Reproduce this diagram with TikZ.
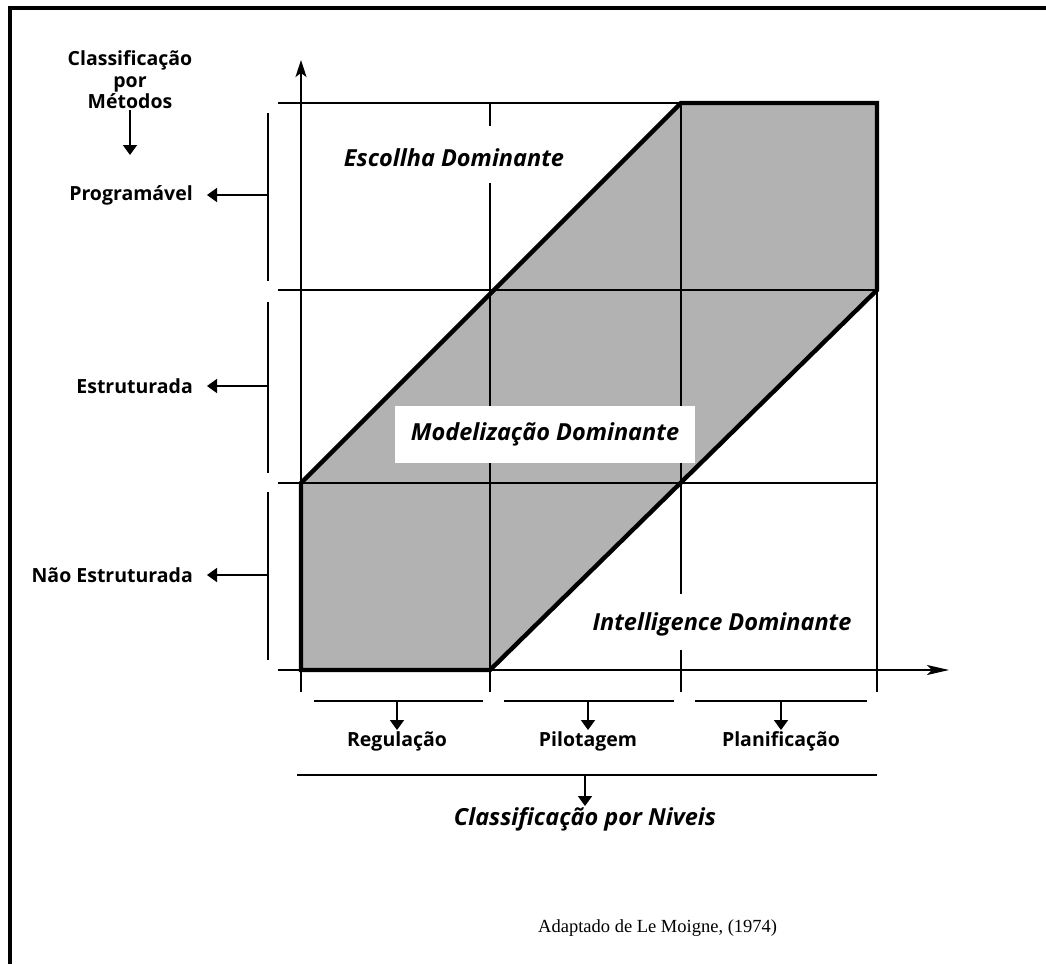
\documentclass[tikz,border=0pt]{standalone}
\usepackage{fontspec}
\setmainfont{Open Sans}
\newfontfamily\citefont{Liberation Serif}
\usetikzlibrary{arrows.meta}

\begin{document}
\begin{tikzpicture}[x=1pt,y=-1pt,
  frameline/.style={line width=3.5pt},
  gridline/.style={line width=1.7pt},
  outline/.style={line width=4.4pt,line join=miter},
  axisline/.style={line width=1.7pt},
  shade/.style={fill=black!30},
  ptr/.style={line width=1.7pt,-{Triangle[length=10pt,width=14pt]}},
  yarrow/.style={axisline,-{Stealth[length=17pt,width=11pt,inset=4pt]}},
  xarrow/.style={axisline,-{Stealth[length=22pt,width=10pt,inset=5pt]}},
  lab/.style={font=\fontsize{19.5}{20.5}\selectfont\bfseries,inner sep=1pt},
  zone/.style={font=\fontsize{23.5}{26}\selectfont\bfseries\itshape,inner sep=1pt},
]
\useasboundingbox (0,0) rectangle (1046,964);

% page frame (top and left edges only)
\draw[frameline] (10,964) -- (10,8) -- (1046,8);

% grid positions: columns a..d, rows t..w
\def\xa{301}\def\xb{490}\def\xc{681}\def\xd{877}
\def\yt{103}\def\yu{290}\def\yv{483}\def\yw{670}

% shaded band of the dominant modelling zone
\fill[shade] (\xa,\yw) -- (\xa,\yv) -- (\xc,\yt) -- (\xd,\yt) -- (\xd,\yu) -- (\xb,\yw) -- cycle;

% horizontal grid lines
\foreach \yy in {\yt,\yu,\yv}
  \draw[gridline] (278,\yy) -- (\xd,\yy);

% vertical grid lines with gaps for the zone labels
\draw[gridline] (\xb,\yt) -- (\xb,126);
\draw[gridline] (\xb,183) -- (\xb,692);
\draw[gridline] (\xc,\yt) -- (\xc,594);
\draw[gridline] (\xc,650) -- (\xc,692);
\draw[gridline] (\xd,\yt) -- (\xd,692);

% axes
\coordinate (xstart) at (278,\yw);
\coordinate (xend) at (949,\yw);
\coordinate (ystart) at (\xa,692);
\coordinate (yend) at (\xa,60);
\draw[xarrow] (xstart) -- (xend);
\draw[yarrow] (ystart) -- (yend);

% outline of the shaded band
\draw[outline] (\xa,\yw) -- (\xa,\yv) -- (\xc,\yt) -- (\xd,\yt) -- (\xd,\yu) -- (\xb,\yw) -- cycle;

% zone labels
\node[zone] (escolha) at (454,158) {Escollha Dominante};
\node[zone,fill=white,minimum width=300pt,minimum height=57pt] (modelo) at (545,434) {Modelização Dominante};
\node[zone] (intel) at (722,624) {Intelligence Dominante};

% vertical classification (methods)
\node[lab,align=center,font=\fontsize{19.5}{21.5}\selectfont\bfseries] (metodos) at (130,80) {Classificação\\por\\Métodos};
\coordinate (mtip) at (130,155);
\draw[ptr] (metodos.south) -- (mtip);

\coordinate (b1top) at (268,113);  \coordinate (b1bot) at (268,281);
\coordinate (b2top) at (268,302);  \coordinate (b2bot) at (268,473);
\coordinate (b3top) at (268,492);  \coordinate (b3bot) at (268,660);
\draw[gridline] (b1top) -- (b1bot);
\draw[gridline] (b2top) -- (b2bot);
\draw[gridline] (b3top) -- (b3bot);

\node[lab,anchor=east,inner xsep=14pt] (prog) at (207,195) {Programável};
\node[lab,anchor=east,inner xsep=14pt] (estr) at (207,386) {Estruturada};
\node[lab,anchor=east,inner xsep=14pt] (naoestr) at (207,575) {Não Estruturada};
\coordinate (b1mid) at (268,195);
\coordinate (b2mid) at (268,386);
\coordinate (b3mid) at (268,575);
\draw[ptr] (b1mid) -- (prog.east);
\draw[ptr] (b2mid) -- (estr.east);
\draw[ptr] (b3mid) -- (naoestr.east);

% horizontal classification (levels)
\coordinate (s1l) at (314,701); \coordinate (s1r) at (483,701);
\coordinate (s2l) at (504,701); \coordinate (s2r) at (674,701);
\coordinate (s3l) at (695,701); \coordinate (s3r) at (867,701);
\draw[gridline] (s1l) -- (s1r);
\draw[gridline] (s2l) -- (s2r);
\draw[gridline] (s3l) -- (s3r);

\node[lab,anchor=north] (regul) at (397,730) {Regulação};
\node[lab,anchor=north] (pilot) at (588,730) {Pilotagem};
\node[lab,anchor=north] (plan) at (781,730) {Planificação};
\coordinate (s1m) at (397,701);
\coordinate (s2m) at (588,701);
\coordinate (s3m) at (781,701);
\draw[ptr] (s1m) -- (regul.north);
\draw[ptr] (s2m) -- (pilot.north);
\draw[ptr] (s3m) -- (plan.north);

\coordinate (lvl) at (297,775); \coordinate (lvr) at (877,775);
\draw[gridline] (lvl) -- (lvr);
\node[zone,anchor=north] (niveis) at (585,806) {Classificação por Niveis};
\coordinate (lvm) at (585,775);
\draw[ptr] (lvm) -- (niveis.north);

% source note
\node[font=\citefont\fontsize{18.5}{21}\selectfont,anchor=west,inner sep=0pt] (fonte) at (538,928) {Adaptado de Le Moigne, (1974)};
\end{tikzpicture}
\end{document}
